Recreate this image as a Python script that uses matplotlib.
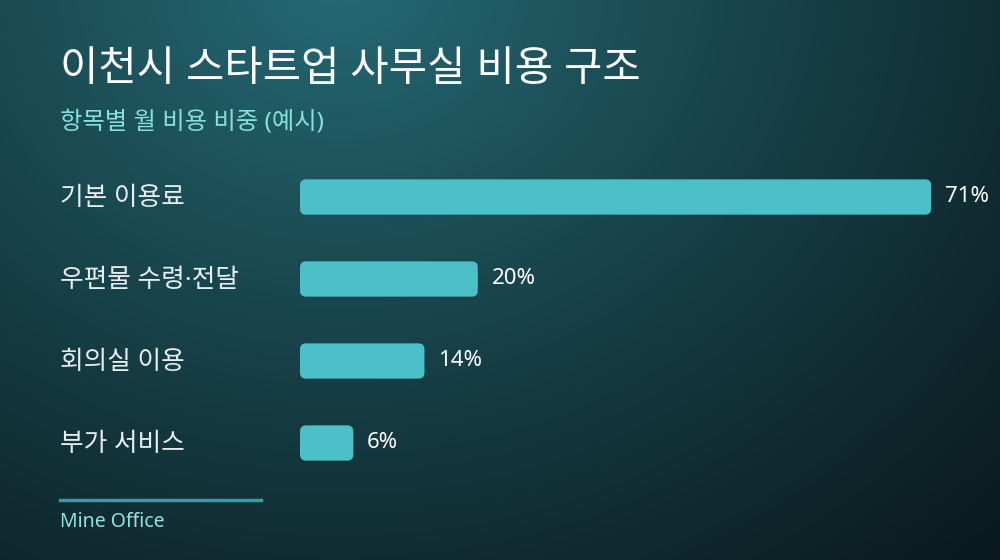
import numpy as np
import matplotlib.pyplot as plt
from matplotlib.patches import FancyBboxPatch
from matplotlib.transforms import blended_transform_factory

plt.rcParams['font.family'] = ['Noto Sans', 'Noto Sans CJK KR', 'DejaVu Sans']

# --- data ---
categories = ["기본 이용료", "우편물 수령·전달", "회의실 이용", "부가 서비스"]
shares = [71, 20, 14, 6]
title = "이천시 스타트업 사무실 비용 구조"
subtitle = "항목별 월 비용 비중 (예시)"
source = "Mine Office"

W, H = 1000, 560
fig = plt.figure(figsize=(W / 100, H / 100), dpi=100)

# --- background: radial gradient ---
bg = fig.add_axes([0, 0, 1, 1])
yy, xx = np.mgrid[0:H, 0:W]
d = np.sqrt(((xx - 340) / 1.0) ** 2 + ((yy + 20) / 0.85) ** 2) / 950
d = np.clip(d, 0, 1)
c0 = np.array([0x25, 0x6a, 0x75]) / 255
c1 = np.array([0x0a, 0x1a, 0x1e]) / 255
t = (1 - d[..., None]) ** 1.15
img = c0[None, None, :] * t + c1[None, None, :] * (1 - t)
bg.imshow(img, extent=[0, W, H, 0], aspect='auto')
bg.set_xlim(0, W)
bg.set_ylim(H, 0)
bg.axis('off')

# --- titles ---
fig.text(60 / W, 1 - 70 / H, title, color='white', fontsize=30, fontweight='medium', va='center')
fig.text(60 / W, 1 - 122 / H, subtitle, color='#86e0dd', fontsize=17.5, va='center')

# --- bars ---
ax = fig.add_axes([300 / W, 1 - 484 / H, 889 / W, 328 / H])
ax.patch.set_alpha(0)
ypos = np.arange(len(categories))
bars = ax.barh(ypos, shares, height=0.43)
ax.set_xlim(0, 100)
ax.set_ylim(len(categories) - 0.5, -0.5)
ax.axis('off')

x_per_px = 100 / 889
y_per_px = len(categories) / 328
for b in bars:
    b.set_visible(False)
    rp = FancyBboxPatch((b.get_x(), b.get_y()), b.get_width(), b.get_height(),
                        boxstyle=f"round,pad=0,rounding_size={6 * x_per_px}",
                        mutation_aspect=y_per_px / x_per_px,
                        facecolor='#4cc0c9', edgecolor='none')
    ax.add_patch(rp)

trans = blended_transform_factory(fig.transFigure, ax.transData)
for y, cat, v in zip(ypos, categories, shares):
    ax.text(60 / W, y + 0.02, cat, transform=trans, color='#e8eef0', fontsize=18.5, va='center', ha='left')
    ax.annotate(f"{v}%", (v, y), xytext=(10, 0), textcoords='offset points',
                color='white', fontsize=16, va='center', ha='left')

# --- footer ---
fig.add_artist(plt.Line2D([60 / W, 261 / W], [1 - 500 / H, 1 - 500 / H], color='#3c9ba2', lw=2.5,
                          transform=fig.transFigure))
fig.text(60 / W, 1 - 522 / H, source, color='#8fe3e3', fontsize=14, va='center')

fig.savefig("out.png", dpi=100)
